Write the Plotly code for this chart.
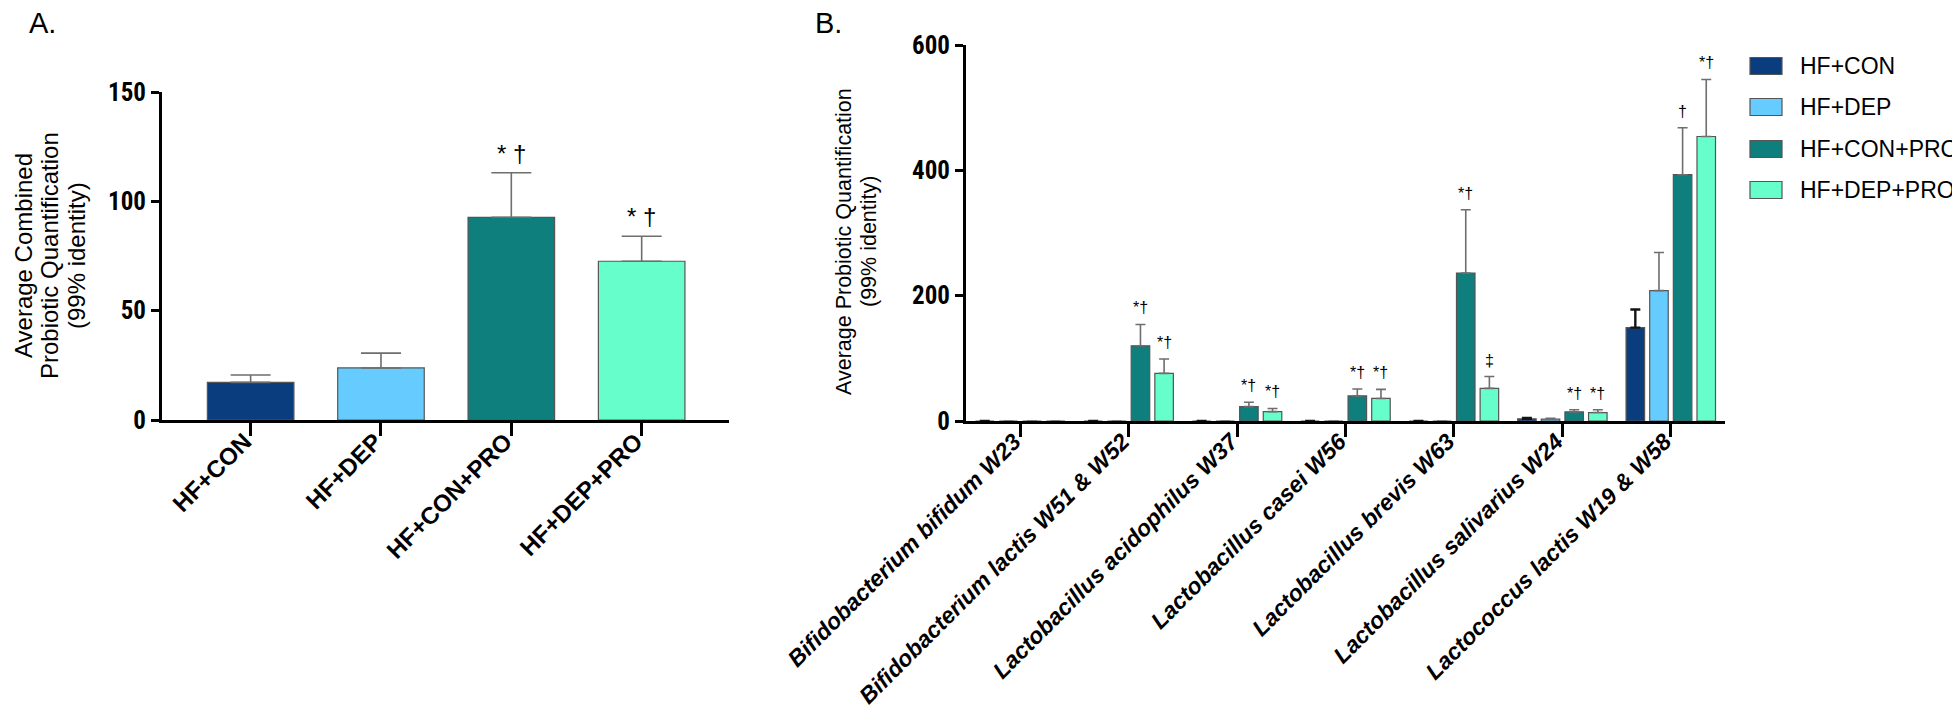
import plotly.graph_objects as go

W, H = 1960, 706

# ---------------- data ----------------
groups = ["HF+CON", "HF+DEP", "HF+CON+PRO", "HF+DEP+PRO"]
group_colors = ["#0a3d7e", "#66ccff", "#0f7f7d", "#66ffcc"]

combined_mean = [17.2, 23.8, 92.7, 72.6]
combined_sem = [3.4, 6.8, 20.4, 11.4]
combined_sig = ["", "", "* †", "* †"]

strains = [
    "Bifidobacterium bifidum W23",
    "Bifidobacterium lactis W51 & W52",
    "Lactobacillus acidophilus W37",
    "Lactobacillus casei W56",
    "Lactobacillus brevis W63",
    "Lactobacillus salivarius W24",
    "Lactococcus lactis W19 & W58",
]
con_mean = [0, 0, 0, 0, 0, 3.5, 149]
con_sem = [0, 0, 0, 0, 0, 1.5, 29]
dep_mean = [0, 0, 0, 0, 0, 3.0, 208]
dep_sem = [0, 0, 0, 0, 0, 1.5, 61]
conpro_mean = [0, 120, 23, 40, 236, 14.5, 393]
conpro_sem = [0, 34, 7, 11, 101, 3.5, 75]
deppro_mean = [0, 76, 15, 36, 52, 13.5, 454]
deppro_sem = [0, 23, 5, 14.5, 19, 4.5, 91]
con_sig = [""] * 7
dep_sig = [""] * 7
conpro_sig = ["", "*†", "*†", "*†", "*†", "*†", "†"]
deppro_sig = ["", "*†", "*†", "*†", "‡", "*†", "*†"]

yticks_a = [0, 50, 100, 150]
yticks_b = [0, 200, 400, 600]

# ---------------- style / layout ----------------
FONT = "Liberation Sans, Arial, Helvetica, sans-serif"
NARROW = "Liberation Sans Narrow, Arial Narrow, Roboto Condensed, Liberation Sans, Arial, sans-serif"
OUTLINE = "rgb(85,85,85)"

# panel pixel boxes
A_x0, A_x1, A_ytop, A_y0 = 154, 721, 84, 412
B_x0, B_x1, B_ytop, B_y0 = 958, 1717, 37, 413

BARGAP_B = 0.128
BARGROUPGAP_B = 0.216


def px(x):
    return x / W


def py(y):
    return 1 - y / H


def shown_err(means, sems):
    # no whisker drawn for empty (zero) bars
    return [s if m > 0 else None for m, s in zip(means, sems)]


fig = go.Figure()

# Panel A
fig.add_trace(go.Bar(
    x=groups, y=combined_mean, width=0.664,
    marker=dict(color=group_colors, line=dict(color=OUTLINE, width=1.2)),
    error_y=dict(type="data", symmetric=False, array=combined_sem,
                 arrayminus=[0] * len(combined_sem),
                 color="rgb(110,110,110)", thickness=1.6, width=20),
    xaxis="x", yaxis="y", showlegend=False, hoverinfo="x+y",
))

# Panel B
series_b = [
    (groups[0], con_mean, con_sem, con_sig, group_colors[0], "rgb(20,20,20)", 2.4),
    (groups[1], dep_mean, dep_sem, dep_sig, group_colors[1], "rgb(110,110,110)", 1.6),
    (groups[2], conpro_mean, conpro_sem, conpro_sig, group_colors[2], "rgb(110,110,110)", 1.6),
    (groups[3], deppro_mean, deppro_sem, deppro_sig, group_colors[3], "rgb(110,110,110)", 1.6),
]
for name, m, s, _, c, ec, et in series_b:
    fig.add_trace(go.Bar(
        name=name, x=strains, y=m,
        marker=dict(color=c, line=dict(color=OUTLINE, width=1.2)),
        error_y=dict(type="data", symmetric=False, array=shown_err(m, s),
                     arrayminus=[0 if v > 0 else None for v in m],
                     color=ec, thickness=et, width=5),
        xaxis="x2", yaxis="y2", showlegend=False,
    ))

annotations = []

# significance marks panel A
for i, (m, s, t) in enumerate(zip(combined_mean, combined_sem, combined_sig)):
    if t:
        annotations.append(dict(
            x=i, y=m + s, xref="x", yref="y", text=t, showarrow=False,
            yanchor="bottom", yshift=4,
            font=dict(family=FONT, size=24, color="black")))

# significance marks panel B
slot = (1 - BARGAP_B) / 4
offsets = [(-1.5 + k) * slot for k in range(4)]
for k, (_, m, s, sig, _, _, _) in enumerate(series_b):
    for i in range(len(strains)):
        if sig[i]:
            annotations.append(dict(
                x=i + offsets[k], y=m[i] + s[i], xref="x2", yref="y2",
                text=sig[i], showarrow=False, yanchor="bottom", yshift=6,
                font=dict(family=FONT, size=16, color="black")))

# y-axis titles as separate lines
title_a = ["Average Combined", "Probiotic Quantification", "(99% identity)"]
for xline, t in zip([15, 41, 68], title_a):
    annotations.append(dict(
        x=px(xline), y=py((A_ytop + A_y0) / 2), xref="paper", yref="paper",
        text=t, textangle=-90, showarrow=False, xanchor="center", yanchor="middle",
        font=dict(family=FONT, size=24, color="black")))
title_b = ["Average Probiotic Quantification", "(99% identity)"]
for xline, t in zip([836, 861], title_b):
    annotations.append(dict(
        x=px(xline), y=py(234), xref="paper", yref="paper",
        text=t, textangle=-90, showarrow=False, xanchor="center", yanchor="middle",
        font=dict(family=FONT, size=21.5, color="black")))

# panel letters
annotations.append(dict(x=px(19), y=py(15), xref="paper", yref="paper", text="A.",
                        showarrow=False, xanchor="left", yanchor="middle",
                        font=dict(family=FONT, size=29, color="black")))
annotations.append(dict(x=px(805), y=py(15), xref="paper", yref="paper", text="B.",
                        showarrow=False, xanchor="left", yanchor="middle",
                        font=dict(family=FONT, size=29, color="black")))

# manual legend
shapes = []
leg_rows = [58, 99, 141, 182]
for name, c, yc in zip(groups, group_colors, leg_rows):
    shapes.append(dict(type="rect", xref="paper", yref="paper",
                       x0=px(1742), x1=px(1774), y0=py(yc + 8.5), y1=py(yc - 8.5),
                       fillcolor=c, line=dict(color=OUTLINE, width=1.2)))
    annotations.append(dict(x=px(1790), y=py(yc), xref="paper", yref="paper",
                            text=name, showarrow=False, xanchor="left", yanchor="middle",
                            font=dict(family=FONT, size=23, color="black")))

axis_common = dict(showline=True, linecolor="black", linewidth=3, ticks="outside",
                   tickcolor="black", tickwidth=3, showgrid=False, zeroline=False,
                   mirror=False, automargin=False)

fig.update_layout(
    width=W, height=H, autosize=False,
    margin=dict(l=0, r=0, t=0, b=0, pad=0),
    paper_bgcolor="white", plot_bgcolor="white",
    barmode="group", bargap=BARGAP_B, bargroupgap=BARGROUPGAP_B,
    xaxis=dict(domain=[px(A_x0), px(A_x1)], range=[-0.68, 3.67], type="category",
               tickangle=-45, ticklen=13, ticklabelstandoff=-18, ticklabelshift=-6,
               tickfont=dict(family=FONT, size=24, color="black", weight="bold"),
               anchor="y", **axis_common),
    yaxis=dict(domain=[py(A_y0), py(A_ytop)], range=[0, 150], tickvals=yticks_a,
               ticklen=8,
               tickfont=dict(family=NARROW, size=25, color="black", weight="bold"),
               anchor="x", **axis_common),
    xaxis2=dict(domain=[px(B_x0), px(B_x1)], range=[-0.5, 6.5], type="category",
                tickangle=-45, ticklen=13, ticklabelstandoff=-18, ticklabelshift=-6,
                tickfont=dict(family=FONT, size=23, color="black", weight="bold",
                              style="italic"),
                anchor="y2", **axis_common),
    yaxis2=dict(domain=[py(B_y0), py(B_ytop)], range=[0, 600], tickvals=yticks_b,
                ticklen=8,
                tickfont=dict(family=NARROW, size=25, color="black", weight="bold"),
                anchor="x2", **axis_common),
    annotations=annotations,
    shapes=shapes,
    showlegend=False,
)

fig.write_html("out.html")
